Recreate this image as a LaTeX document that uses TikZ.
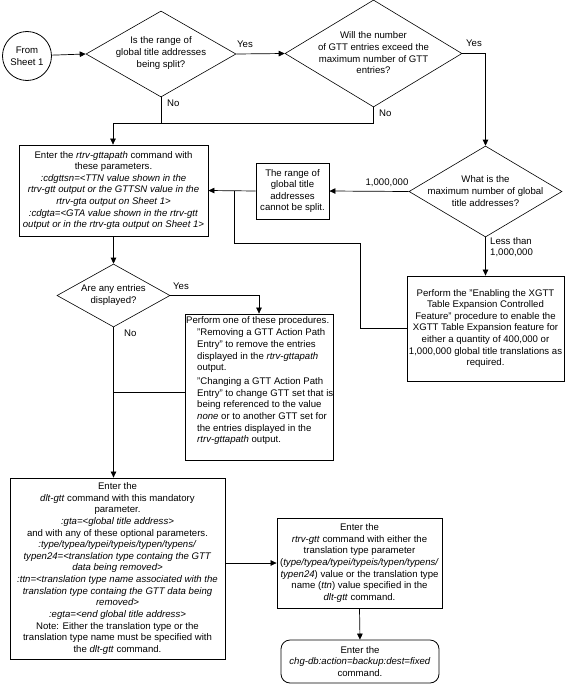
\documentclass[tikz,border=0pt]{standalone}
\usepackage{fontspec}
\setmainfont{Liberation Sans}
\usetikzlibrary{shapes.geometric,arrows.meta}
\newcommand\diagfont{\fontsize{9.6}{11.65}\selectfont}
\tikzset{
  box/.style={draw, line width=0.8pt, inner sep=0pt, align=center, font=\diagfont},
  dia/.style={draw, diamond, line width=0.6pt, inner sep=0pt},
  txt/.style={inner sep=0pt, align=center, font=\diagfont},
  lab/.style={inner sep=0pt, font=\diagfont},
  conn/.style={line width=0.7pt},
  arr/.style={conn, -{Triangle[length=6pt,width=5.5pt]}},
}
\begin{document}
\begin{tikzpicture}[x=1pt,y=-1pt]
\useasboundingbox (0,0) rectangle (565,685);

% start
\node[draw, circle, line width=0.8pt, minimum size=49pt, inner sep=0pt, align=center, font=\diagfont] (start) at (27,56) {From\\Sheet 1};

% decision 1
\node[dia, minimum width=150pt, minimum height=86pt] (d1) at (161,54) {};
\node[txt] (d1t) at (161,53) {Is the range of\\global title addresses\\being split?};

% decision 2
\node[dia, minimum width=177pt, minimum height=107pt] (d2) at (373.5,53.5) {};
\node[txt] (d2t) at (373.5,53) {Will the number\\of GTT entries exceed the\\maximum number of GTT\\entries?};

% decision 3
\node[dia, minimum width=153pt, minimum height=91pt] (d3) at (485.5,191.5) {};
\node[txt] (d3t) at (485.5,191) {What is the\\maximum number of global\\title addresses?};

% enter rtrv-gttapath
\node[box, minimum width=189pt, minimum height=91pt] (enter) at (113.5,190.5)
 {Enter the \textit{rtrv-gttapath} command with\\these parameters.\\
  \textit{:cdgttsn=<TTN value shown in the}\\
  \textit{rtrv-gtt output or the GTTSN value in the}\\
  \textit{rtrv-gta output on Sheet 1>}\\
  \textit{:cdgta=<GTA value shown in the rtrv-gtt}\\
  \textit{output or in the rtrv-gta output on Sheet 1>}};

% cannot be split
\node[box, minimum width=73pt, minimum height=56pt] (cannot) at (292.5,191)
 {The range of\\global title\\addresses\\cannot be split.};

% xgtt
\node[box, minimum width=157pt, minimum height=105pt] (xgtt) at (485.5,328.5)
 {Perform the "Enabling the XGTT\\Table Expansion Controlled\\Feature" procedure to enable the\\XGTT Table Expansion feature for\\either a quantity of 400,000 or\\1,000,000 global title translations as\\required.};

% decision 4
\node[dia, minimum width=113pt, minimum height=63pt] (d4) at (113.5,295.5) {};
\node[txt] (d4t) at (113.5,295) {Are any entries\\displayed?};

% perform box
\node[draw, line width=0.8pt, minimum width=148pt, minimum height=146pt, inner sep=0pt] (perform) at (259,387) {};
\node[lab, align=left, anchor=north west] (ptxt) at (186,316)
 {Perform one of these procedures.\\[1pt]
  \hspace*{11pt}"Removing a GTT Action Path\\
  \hspace*{11pt}Entry" to remove the entries\\
  \hspace*{11pt}displayed in the \textit{rtrv-gttapath}\\
  \hspace*{11pt}output.\\[2pt]
  \hspace*{11pt}"Changing a GTT Action Path\\
  \hspace*{11pt}Entry" to change GTT set that is\\
  \hspace*{11pt}being referenced to the value\\
  \hspace*{11pt}\textit{none} or to another GTT set for\\
  \hspace*{11pt}the entries displayed in the\\
  \hspace*{11pt}\textit{rtrv-gttapath} output.};

% dlt-gtt box
\node[box, minimum width=215pt, minimum height=181pt] (dlt) at (117.5,568.5)
 {Enter the\\
  \textit{dlt-gtt} command with this mandatory\\
  parameter.\\
  \textit{:gta=<global title address>}\\
  and with any of these optional parameters.\\
  \textit{:type/typea/typei/typeis/typen/typens/}\\
  \textit{typen24=<translation type containg the GTT}\\
  \textit{data being removed>}\\
  \textit{:ttn=<translation type name associated with the}\\
  \textit{translation type containg the GTT data being}\\
  \textit{removed>}\\
  \textit{:egta=<end global title address>}\\
  Note: Either the translation type or the\\
  translation type name must be specified with\\
  the \textit{dlt-gtt} command.};

% rtrv-gtt box
\node[box, minimum width=165pt, minimum height=90pt] (rtrv) at (359.5,563)
 {Enter the\\
  \textit{rtrv-gtt} command with either the\\
  translation type parameter\\
  (\textit{type/typea/typei/typeis/typen/typens/}\\
  \textit{typen24}) value or the translation type\\
  name (\textit{ttn}) value specified in the\\
  \textit{dlt-gtt} command.};

% final rounded box
\node[box, rounded corners=9pt, minimum width=158pt, minimum height=43pt] (chg) at (360,661.5)
 {Enter the\\\textit{chg-db:action=backup:dest=fixed}\\command.};

% coordinates
\coordinate (n1) at (161,123);
\coordinate (n2) at (113,123);
\coordinate (j1) at (234,191);
\coordinate (k1) at (360,243);
\coordinate (pw) at ([yshift=-5pt]perform.west);

% connectors
\draw[arr] (start) -- (d1.west);
\draw[arr] (d1.east) -- (d2.west);
\node[lab, anchor=west] (yes1) at (237,44) {Yes};
\draw[arr] (d1.south) -- (n1) -- (n2) -- (n2 |- enter.north);
\node[lab, anchor=west] (no1) at (167,103) {No};
\draw[conn] (d2.south) |- (n1);
\node[lab, anchor=west] (no2) at (379,113) {No};
\draw[arr] (d2.east) -| (d3.north);
\node[lab, anchor=west] (yes2) at (466,43) {Yes};
\draw[arr] (d3.west) -- (cannot.east);
\node[lab] (l1m) at (387,183) {1,000,000};
\draw[arr] (d3.south) -- (xgtt.north);
\node[lab, align=left, anchor=north west] (lless) at (490,237) {Less than\\1,000,000};
\draw[arr] (cannot.west) -- (enter.east);
\draw[conn] (xgtt.west) -| (k1) -| (j1);
\draw[arr] (enter.south) -- (d4.north);
\draw[arr] (d4.east) -| (perform.north);
\node[lab, anchor=west] (yes3) at (173,286) {Yes};
\draw[arr] (d4.south) -- (d4.south |- dlt.north);
\node[lab, anchor=west] (no3) at (124,333) {No};
\draw[conn] (pw) -- (pw -| d4.south);
\draw[arr] (dlt.east |- rtrv.west) -- (rtrv.west);
\draw[arr] (rtrv.south) -- (chg.north);
\end{tikzpicture}
\end{document}
